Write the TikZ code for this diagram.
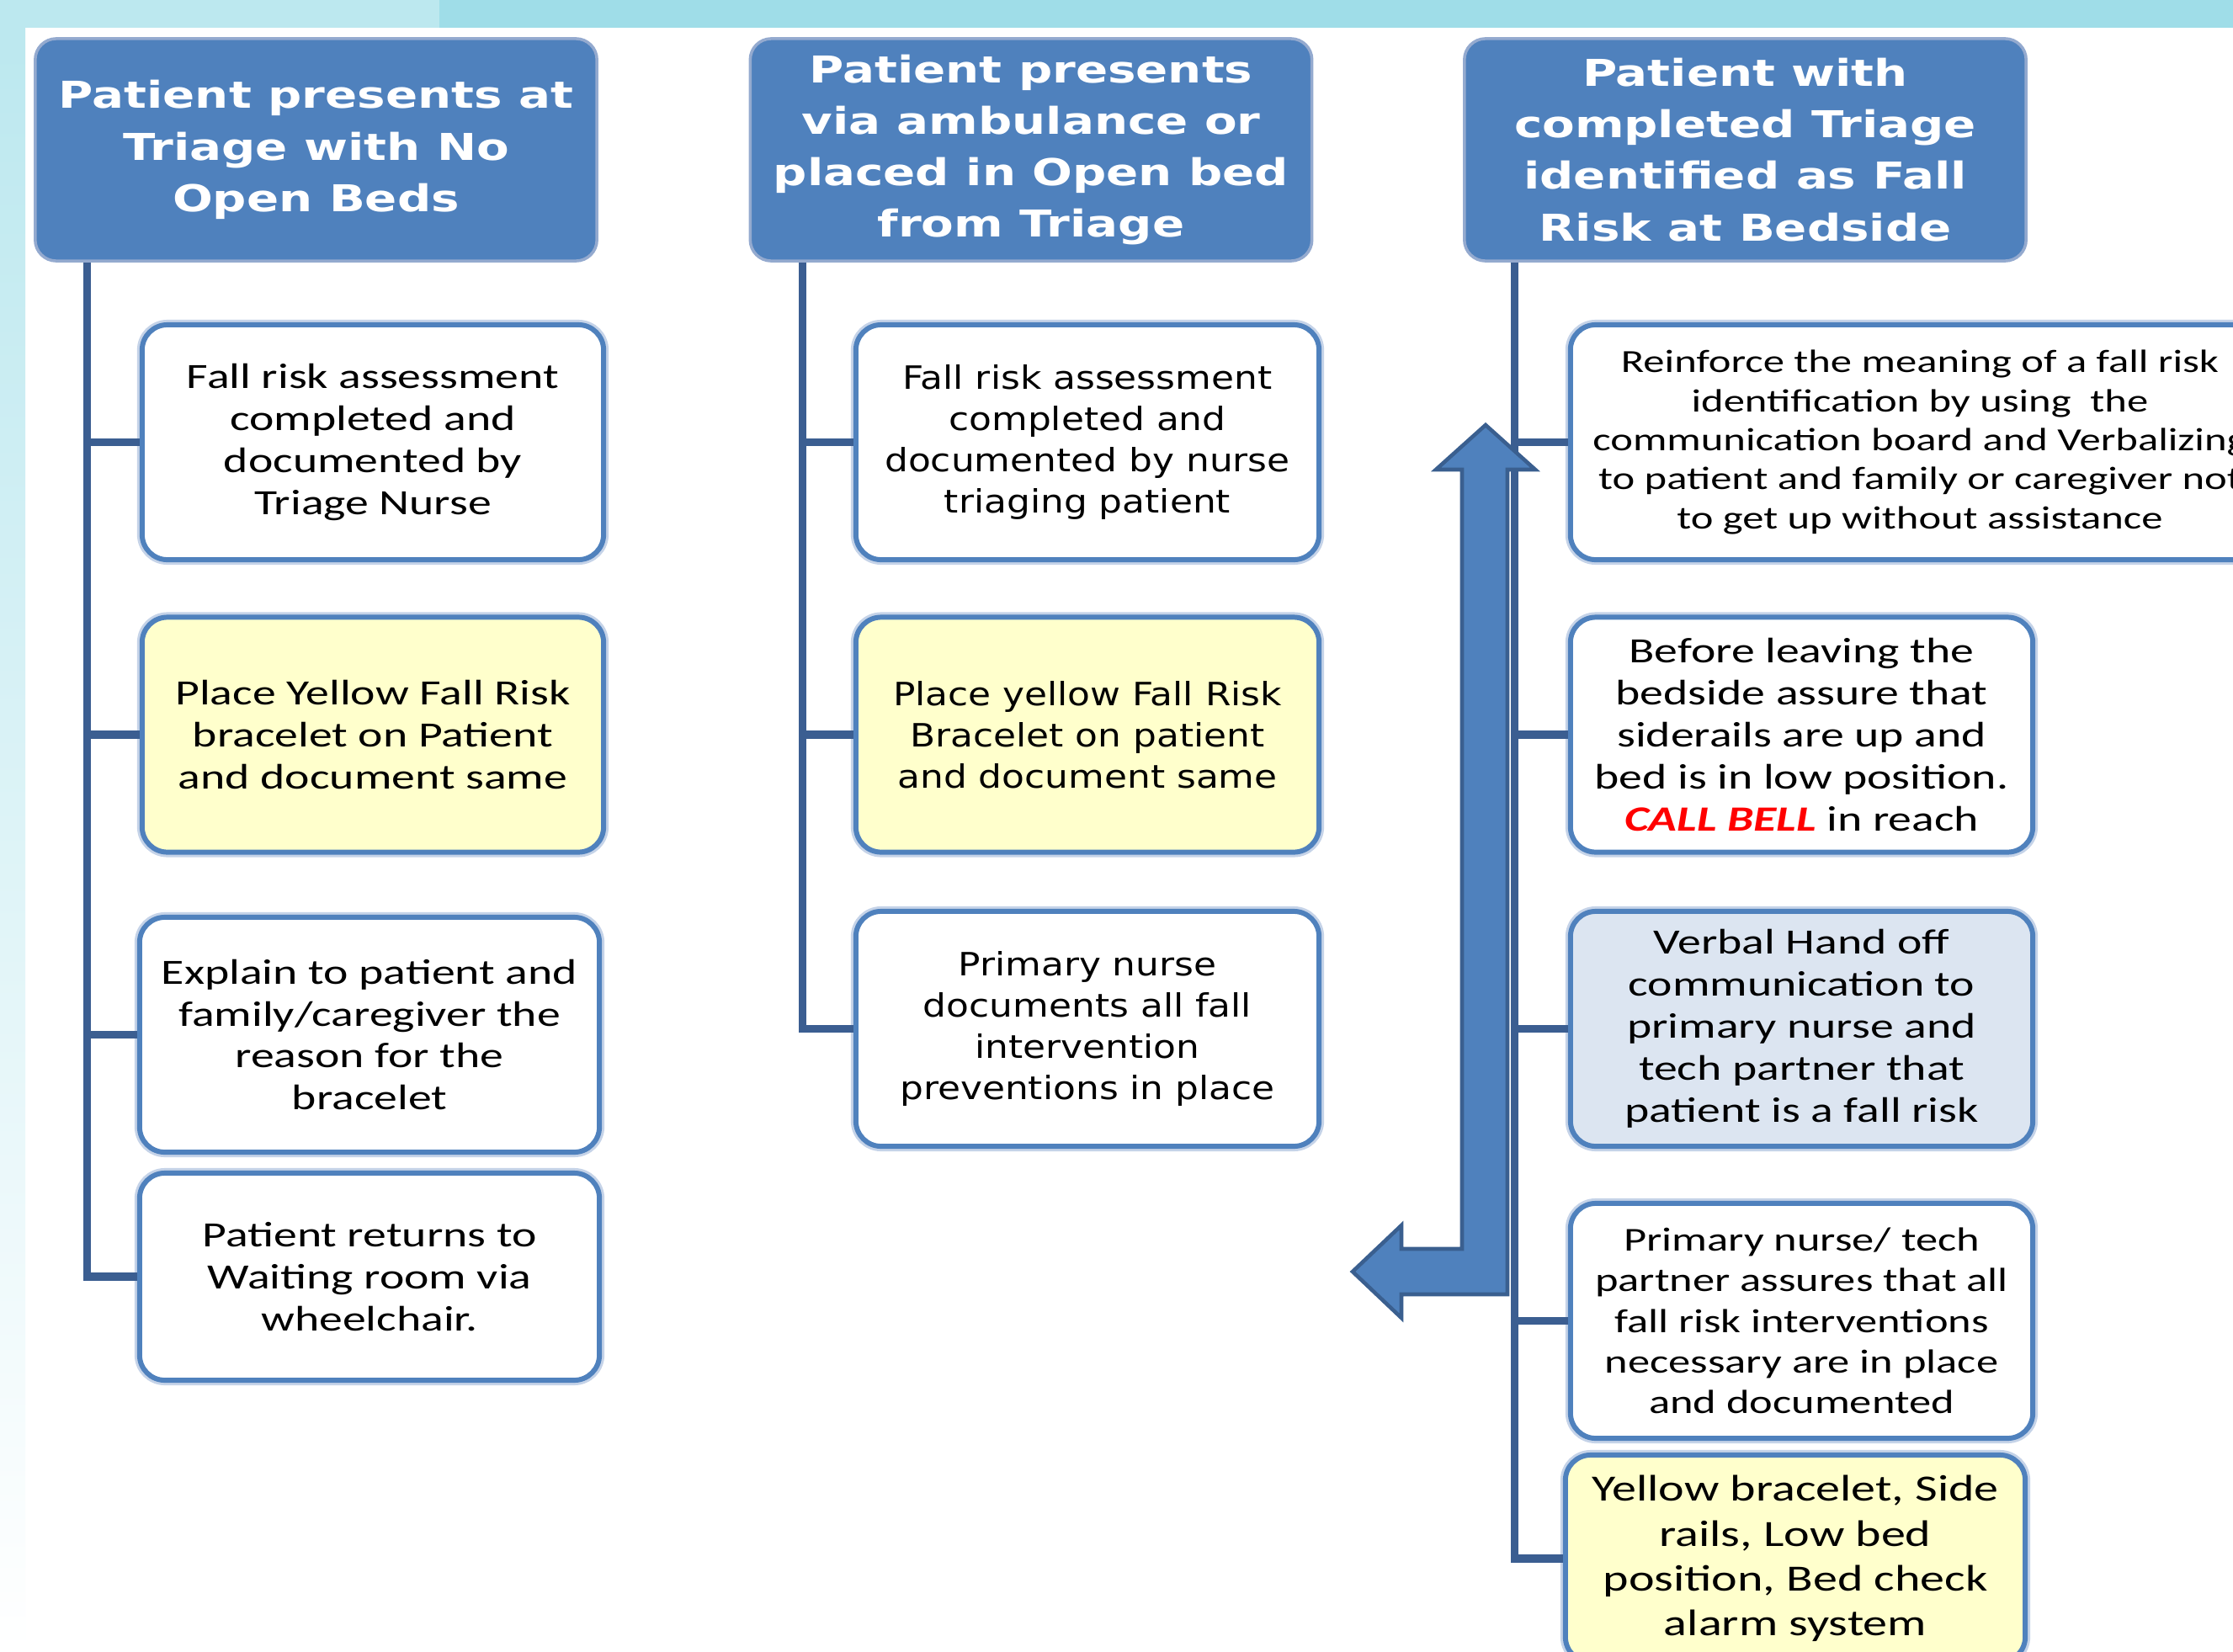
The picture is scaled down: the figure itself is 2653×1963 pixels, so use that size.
\documentclass[tikz,border=0pt]{standalone}
\usepackage{fontspec}
\setmainfont{Carlito}
\newfontfamily\bodyf[FakeStretch=1.32]{Carlito}
\newfontfamily\midf[FakeStretch=1.15]{DejaVu Sans}
\newfontfamily\headf[FakeStretch=1.28]{DejaVu Sans}
\definecolor{hdrfill}{HTML}{4F81BD}
\definecolor{hdrline}{HTML}{94AACF}
\definecolor{boxline}{HTML}{4F81BD}
\definecolor{halo}{HTML}{C5D3E8}
\definecolor{trunkc}{HTML}{3B5E91}
\definecolor{yfill}{HTML}{FFFFCC}
\definecolor{bluefill}{HTML}{DCE5F1}
\definecolor{arrowfill}{HTML}{4F81BD}
\definecolor{arrowline}{HTML}{3A5F8F}
\definecolor{callred}{HTML}{FF0000}
\definecolor{bandA}{HTML}{BCE8EF}
\definecolor{bandB}{HTML}{9FDDE8}
\tikzset{
  hdr/.style={draw=hdrline, line width=1pt, fill=hdrfill, rounded corners=0.25cm,
    minimum width=6.67cm, minimum height=2.64cm, text=white, align=center,
    font=\headf\bfseries\fontsize{12.5}{17.4}\selectfont, inner sep=0pt},
  box/.style={draw=boxline, line width=1.7pt, fill=white, rounded corners=0.3cm,
    minimum width=5.48cm, minimum height=2.79cm, align=center,
    font=\bodyf\fontsize{12}{14.2}\selectfont, inner sep=0pt,
    preaction={draw=halo, line width=3.4pt}},
  ybox/.style={box, fill=yfill},
  bbox/.style={box, fill=bluefill},
  midbox/.style={font=\midf\fontsize{10.85}{13.9}\selectfont},
  conn/.style={draw=trunkc, line width=2.6pt},
  bigarrow/.style={fill=arrowfill, draw=arrowline, line width=1.3pt, line join=miter}
}
\begin{document}
\begin{tikzpicture}[x=0.01cm, y=-0.01cm]
\useasboundingbox (0,0) rectangle (2653,1963);
\clip (0,0) rectangle (2653,1963);
% background
\fill[white] (0,0) rectangle (2653,1963);
\fill[bandA] (0,0) rectangle (522,33);
\fill[bandB] (522,0) rectangle (2653,33);
\shade[top color=bandA, bottom color=white] (0,33) rectangle (30,1963);

% headers
\node[hdr] (H1) at (375.5,178) {Patient presents at\\Triage with No\\Open Beds};
\node[hdr] (H2) at (1225,178) {Patient presents\\via ambulance or\\placed in Open bed\\from Triage};
\node[hdr] (H3) at (2073.5,178) {Patient with\\completed Triage\\identified as Fall\\Risk at Bedside};

\coordinate (T1) at ([xshift=0.63cm]H1.south west);
\coordinate (T2) at ([xshift=0.64cm]H2.south west);
\coordinate (T3) at ([xshift=0.61cm]H3.south west);

% column 1
\node[box] (A1) at (443,525.5) {Fall risk assessment\\completed and\\documented by\\Triage Nurse};
\node[ybox] (A2) at (443,873) {Place Yellow Fall Risk\\bracelet on Patient\\and document same};
\node[box, minimum width=5.46cm] (A3) at (439,1229.5) {Explain to patient and\\family/caregiver the\\reason for the\\bracelet};
\node[box, minimum width=5.46cm, minimum height=2.46cm] (A4) at (439,1517) {Patient returns to\\Waiting room via\\wheelchair.};

% column 2
\node[box, midbox, minimum width=5.5cm] (B1) at (1292,525.5) {Fall risk assessment\\completed and\\documented by nurse\\triaging patient};
\node[ybox, midbox, minimum width=5.5cm] (B2) at (1292,873) {Place yellow Fall Risk\\Bracelet on patient\\and document same};
\node[box, midbox, minimum width=5.5cm] (B3) at (1292,1222.5) {Primary nurse\\documents all fall\\intervention\\preventions in place};

% column 3
\node[box, minimum width=8.3cm, font=\bodyf\fontsize{10.9}{13.2}\selectfont] (C1) at (2281,525.5) {Reinforce the meaning of a fall risk\\identification by using\ \ the\\communication board and Verbalizing\\to patient and family or caregiver not\\to get up without assistance};
\node[box, minimum width=5.49cm] (C2) at (2140.5,873) {Before leaving the\\bedside assure that\\siderails are up and\\bed is in low position.\\{\color{callred}\bfseries\itshape CALL BELL} in reach};
\node[bbox, minimum width=5.49cm] (C3) at (2140.5,1222.5) {Verbal Hand off\\communication to\\primary nurse and\\tech partner that\\patient is a fall risk};
\node[box, minimum width=5.49cm, font=\bodyf\fontsize{11.3}{13.7}\selectfont] (C4) at (2140.5,1569.5) {Primary nurse/ tech\\partner assures that all\\fall risk interventions\\necessary are in place\\and documented};
\node[ybox, minimum width=5.46cm, minimum height=2.46cm, font=\bodyf\fontsize{12.5}{15.2}\selectfont] (C5) at (2133,1852) {Yellow bracelet, Side\\rails, Low bed\\position, Bed check\\alarm system};

% connectors
\draw[conn] (T1) |- (A4.west);
\draw[conn] (A1.west) -- (A1.west -| T1);
\draw[conn] (A2.west) -- (A2.west -| T1);
\draw[conn] (A3.west) -- (A3.west -| T1);

\draw[conn] (T2) |- (B3.west);
\draw[conn] (B1.west) -- (B1.west -| T2);
\draw[conn] (B2.west) -- (B2.west -| T2);

\draw[conn] (T3) |- (C5.west);
\draw[conn] (C1.west) -- (C1.west -| T3);
\draw[conn] (C2.west) -- (C2.west -| T3);
\draw[conn] (C3.west) -- (C3.west -| T3);
\draw[conn] (C4.west) -- (C4.west -| T3);

% bent arrow
\draw[bigarrow] (1765,505) -- (1824,558) -- (1791,558) -- (1791,1538) -- (1665,1538)
  -- (1665,1566) -- (1607,1511) -- (1665,1456) -- (1665,1484) -- (1737,1484)
  -- (1737,558) -- (1706,558) -- cycle;
\end{tikzpicture}
\end{document}
